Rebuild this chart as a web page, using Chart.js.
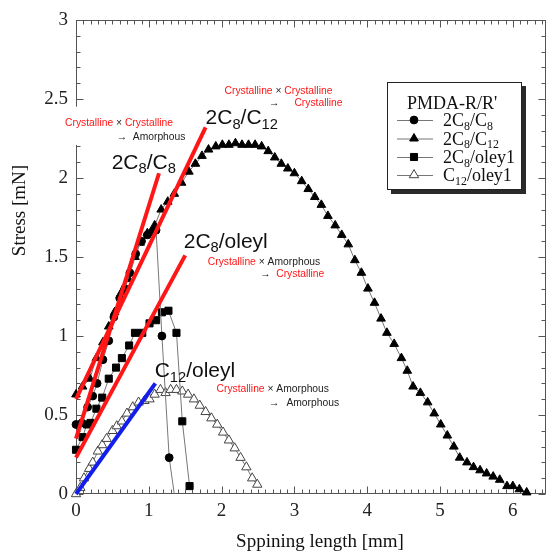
<!DOCTYPE html>
<html>
<head>
<meta charset="utf-8">
<script src="https://cdn.jsdelivr.net/npm/chart.js@4/dist/chart.umd.min.js"></script>
<style>
  html, body { margin: 0; padding: 0; background: #fff; }
  #wrap { width: 552px; height: 557px; }
</style>
</head>
<body>
<div id="wrap"><canvas id="c" width="552" height="557"></canvas></div>
<script>
// ---- Stress vs. spinning length for PMDA-R/R' fibres ----

// 2C8/C8
const xC8C8 = [0.00, 0.08, 0.16, 0.23, 0.29, 0.37, 0.45, 0.52, 0.60, 0.67, 0.74, 0.82, 0.90, 0.98, 1.05, 1.10, 1.18, 1.28, 1.35];
const yC8C8 = [0.44, 0.45, 0.55, 0.62, 0.70, 0.85, 0.97, 1.12, 1.24, 1.30, 1.40, 1.52, 1.60, 1.64, 1.66, 1.67, 1.00, 0.23, 0.00];

// 2C8/C12
const xC8C12 = [0.00, 0.09, 0.19, 0.28, 0.37, 0.45, 0.53, 0.63, 0.72, 0.81, 0.88, 0.98, 1.08, 1.17, 1.26, 1.35, 1.45, 1.55,
  1.64, 1.73, 1.82, 1.92, 2.01, 2.10, 2.19, 2.28, 2.37, 2.46, 2.55, 2.64, 2.73, 2.82, 2.91, 3.00, 3.10, 3.19, 3.28, 3.37,
  3.46, 3.56, 3.65, 3.74, 3.83, 3.92, 4.01, 4.10, 4.19, 4.27, 4.37, 4.47, 4.55, 4.63, 4.73, 4.83, 4.92, 5.01, 5.10, 5.19,
  5.27, 5.37, 5.46, 5.55, 5.64, 5.73, 5.82, 5.92, 6.00, 6.09, 6.19];
const yC8C12 = [0.63, 0.68, 0.73, 0.86, 0.96, 1.06, 1.15, 1.28, 1.36, 1.50, 1.59, 1.65, 1.70, 1.80, 1.85, 1.90, 1.97, 2.04,
  2.09, 2.14, 2.18, 2.20, 2.21, 2.21, 2.22, 2.21, 2.21, 2.21, 2.20, 2.17, 2.13, 2.09, 2.06, 2.03, 1.98, 1.93, 1.88, 1.83,
  1.76, 1.70, 1.64, 1.58, 1.48, 1.40, 1.30, 1.21, 1.11, 1.02, 0.95, 0.86, 0.78, 0.68, 0.64, 0.58, 0.51, 0.44, 0.37, 0.30,
  0.23, 0.20, 0.17, 0.15, 0.13, 0.11, 0.09, 0.05, 0.05, 0.03, 0.01];

// 2C8/oleyl
const xC8Oleyl = [0.00, 0.09, 0.15, 0.20, 0.28, 0.36, 0.45, 0.55, 0.63, 0.73, 0.81, 0.91, 1.01, 1.10, 1.18, 1.27, 1.38, 1.46, 1.56];
const yC8Oleyl = [0.28, 0.36, 0.44, 0.45, 0.54, 0.61, 0.73, 0.80, 0.86, 0.94, 1.02, 1.02, 1.08, 1.10, 1.15, 1.16, 1.02, 0.46, 0.05];

// C12/oleyl
const xC12Oleyl = [0.00, 0.06, 0.11, 0.18, 0.23, 0.30, 0.36, 0.42, 0.50, 0.56, 0.63, 0.70, 0.78, 0.86, 0.94, 1.01, 1.08, 1.16,
  1.23, 1.30, 1.38, 1.46, 1.54, 1.62, 1.70, 1.78, 1.86, 1.94, 2.02, 2.10, 2.18, 2.26, 2.34, 2.42, 2.49];
const yC12Oleyl = [0.00, 0.04, 0.10, 0.16, 0.20, 0.27, 0.31, 0.35, 0.40, 0.43, 0.46, 0.51, 0.55, 0.58, 0.59, 0.60, 0.63, 0.66,
  0.64, 0.66, 0.66, 0.65, 0.63, 0.60, 0.56, 0.52, 0.48, 0.44, 0.39, 0.34, 0.29, 0.23, 0.17, 0.10, 0.06];

// initial-slope fits
const fitC8C8X = [0, 1.14],     fitC8C8Y = [0.35, 2.03];
const fitC8C12X = [0, 1.78],    fitC8C12Y = [0.60, 2.32];
const fitC8OleylX = [0, 1.50],  fitC8OleylY = [0.23, 1.51];
const fitC12OleylX = [0, 1.09], fitC12OleylY = [0.00, 0.70];

// axis ticks
const xTickValues = [0, 1, 2, 3, 4, 5, 6];
const yTickValues = [0, 0.5, 1, 1.5, 2, 2.5, 3];

// series names (_{..} = subscript)
const seriesNames = ['2C_{8}/C_{8}', '2C_{8}/C_{12}', '2C_{8}/oley1', 'C_{12}/oley1'];
const legendTitle = "PMDA-R/R'";

const zip = (xs, ys) => xs.map((x, i) => ({ x, y: ys[i] }));

const SERIF = '"Liberation Serif", "Times New Roman", serif';
const SANS = '"Liberation Sans", Arial, sans-serif';
const RED = 'rgb(255,22,22)';
const AXIS = '#555';
const LINK = '#777';

function richParts(s) {
  const out = []; const re = /_\{([^}]*)\}/g; let last = 0, m;
  while ((m = re.exec(s))) {
    if (m.index > last) out.push([s.slice(last, m.index), false]);
    out.push([m[1], true]);
    last = re.lastIndex;
  }
  if (last < s.length) out.push([s.slice(last), false]);
  return out;
}
function drawRich(ctx, s, x, y, size, family, color, subScale, subDrop) {
  ctx.fillStyle = color; ctx.textAlign = 'left'; ctx.textBaseline = 'alphabetic';
  for (const [t, sub] of richParts(s)) {
    const fs = sub ? size * subScale : size;
    ctx.font = fs + 'px ' + family;
    ctx.fillText(t, x, sub ? y + size * subDrop : y);
    x += ctx.measureText(t).width;
  }
  return x;
}
function drawMarker(ctx, style, x, y, r, fill, stroke) {
  ctx.beginPath();
  if (style === 'circle') ctx.arc(x, y, r, 0, Math.PI * 2);
  else if (style === 'triangle') {
    const s = Math.sin(Math.PI / 3) * r;
    ctx.moveTo(x, y - r); ctx.lineTo(x + s, y + r / 2); ctx.lineTo(x - s, y + r / 2); ctx.closePath();
  } else if (style === 'rect') {
    const h = r * Math.SQRT1_2; ctx.rect(x - h, y - h, 2 * h, 2 * h);
  }
  ctx.fillStyle = fill; ctx.fill();
  ctx.lineWidth = 1; ctx.strokeStyle = stroke; ctx.stroke();
}

// series styles (also used by the legend)
const seriesStyle = [
  { pointStyle: 'circle',   r: 3.9, fill: '#000', stroke: '#000' },
  { pointStyle: 'triangle', r: 5.0, fill: '#000', stroke: '#000' },
  { pointStyle: 'rect',     r: 5.0, fill: '#000', stroke: '#000' },
  { pointStyle: 'triangle', r: 5.4, fill: '#fff', stroke: '#444' }
];
const seriesData = [zip(xC8C8, yC8C8), zip(xC8C12, yC8C12), zip(xC8Oleyl, yC8Oleyl), zip(xC12Oleyl, yC12Oleyl)];

const fitLine = (data, color) => ({
  data, showLine: true, borderColor: color, borderWidth: 4, pointRadius: 0,
  borderCapStyle: 'butt', order: 0, clip: false
});

const datasets = [
  fitLine(zip(fitC8C8X, fitC8C8Y), RED),
  fitLine(zip(fitC8C12X, fitC8C12Y), RED),
  fitLine(zip(fitC8OleylX, fitC8OleylY), RED),
  fitLine(zip(fitC12OleylX, fitC12OleylY), 'rgb(20,30,235)')
];
seriesData.forEach((data, i) => {
  const st = seriesStyle[i];
  datasets.push({
    label: seriesNames[i], data, showLine: true,
    borderColor: LINK, borderWidth: 1, order: 1 + i, clip: false,
    pointStyle: st.pointStyle,
    pointRadius: i === 0 ? (c => (c.raw && c.raw.y === 0 ? 0 : st.r)) : st.r,
    pointBackgroundColor: st.fill, pointBorderColor: st.stroke, pointBorderWidth: 1
  });
});

// curve labels, in data coordinates (left / baseline)
const curveLabels = [
  { x: 1.78, y: 2.34, text: '2C_{8}/C_{12}' },
  { x: 0.49, y: 2.06, text: '2C_{8}/C_{8}' },
  { x: 1.48, y: 1.56, text: '2C_{8}/oleyl' },
  { x: 1.08, y: 0.74, text: 'C_{12}/oleyl' }
];
// structure notes: first line "A × B", second line "→ C"
const notes = [
  { x: -0.15, y1: 2.35, y2: 2.26, a: 'Crystalline', b: 'Crystalline', ax: 0.56, cx: 0.78, c: 'Amorphous', cRed: false },
  { x: 2.04,  y1: 2.55, y2: 2.475, a: 'Crystalline', b: 'Crystalline', ax: 2.65, cx: 3.00, c: 'Crystalline', cRed: true },
  { x: 1.81,  y1: 1.47, y2: 1.39, a: 'Crystalline', b: 'Amorphous',   ax: 2.53, cx: 2.75, c: 'Crystalline', cRed: true },
  { x: 1.93,  y1: 0.665, y2: 0.576, a: 'Crystalline', b: 'Amorphous', ax: 2.65, cx: 2.89, c: 'Amorphous', cRed: false }
];

const framePlugin = {
  id: 'frame',
  beforeDatasetsDraw(chart) {
    const { ctx, chartArea: a, scales: { x, y } } = chart;
    ctx.save();
    ctx.strokeStyle = AXIS; ctx.lineWidth = 1;
    const L = Math.round(a.left) + 0.5, R = Math.round(a.right) - 0.5;
    const T = Math.round(a.top) + 0.5, B = Math.round(a.bottom) - 0.5;
    ctx.strokeRect(L, T, R - L, B - T);
    ctx.beginPath();
    for (let i = 0; i <= 64; i++) {
      const px = Math.round(x.getPixelForValue(i / 10)) + 0.5;
      const len = i % 10 === 0 ? 7 : 4;
      ctx.moveTo(px, B); ctx.lineTo(px, B - len);
      ctx.moveTo(px, T); ctx.lineTo(px, T + len);
    }
    for (let i = 0; i <= 30; i++) {
      const py = Math.round(y.getPixelForValue(i / 10)) + 0.5;
      const len = i % 5 === 0 ? 7 : 4;
      ctx.moveTo(L, py); ctx.lineTo(L + len, py);
      ctx.moveTo(R, py); ctx.lineTo(R - len, py);
    }
    ctx.stroke();
    ctx.restore();
  },
  afterDraw(chart) {
    const { ctx, scales: { x, y } } = chart;
    ctx.save();

    // axis titles
    ctx.fillStyle = '#111';
    ctx.font = '19px ' + SERIF;
    ctx.textAlign = 'center'; ctx.textBaseline = 'alphabetic';
    ctx.fillText('Sppining length [mm]', 320, 547);
    ctx.save();
    ctx.translate(25, 210.5); ctx.rotate(-Math.PI / 2);
    ctx.fillText('Stress [mN]', 0, 0);
    ctx.restore();

    // structure notes
    const fs = 10.3;
    notes.forEach(n => {
      const x0 = x.getPixelForValue(n.x), y1 = y.getPixelForValue(n.y1), y2 = y.getPixelForValue(n.y2);
      ctx.font = fs + 'px ' + SANS;
      const wA = ctx.measureText(n.a).width, wX = ctx.measureText(' × ').width, wB = ctx.measureText(n.b).width;
      const cx = x.getPixelForValue(n.cx), wC = ctx.measureText(n.c).width;
      const right = Math.max(x0 + wA + wX + wB, cx + wC);
      ctx.fillStyle = '#fff';
      ctx.fillRect(x0 - 5, y1 - 16, right - x0 + 12, y2 - y1 + 24);
      ctx.textAlign = 'left'; ctx.textBaseline = 'middle';
      ctx.fillStyle = RED; ctx.fillText(n.a, x0, y1);
      ctx.fillStyle = '#222'; ctx.fillText(' × ', x0 + wA, y1);
      ctx.fillStyle = n.b === 'Crystalline' ? RED : '#222'; ctx.fillText(n.b, x0 + wA + wX, y1);
      ctx.fillStyle = '#222'; ctx.fillText('→', x.getPixelForValue(n.ax), y2);
      ctx.fillStyle = n.cRed ? RED : '#222'; ctx.fillText(n.c, cx, y2);
    });

    // curve labels
    curveLabels.forEach(l => {
      drawRich(ctx, l.text, x.getPixelForValue(l.x), y.getPixelForValue(l.y), 21, SANS, '#111', 0.7, 0.22);
    });

    // legend
    const bx = 387, by = 82, bw = 135, bh = 108;
    ctx.fillStyle = '#2a2a2a';
    ctx.fillRect(bx + 4, by + 4, bw, bh);
    ctx.fillStyle = '#fff';
    ctx.fillRect(bx, by, bw, bh);
    ctx.strokeStyle = '#222'; ctx.lineWidth = 1;
    ctx.strokeRect(bx + 0.5, by + 0.5, bw - 1, bh - 1);
    ctx.fillStyle = '#111'; ctx.font = '18px ' + SERIF;
    ctx.textAlign = 'left'; ctx.textBaseline = 'alphabetic';
    ctx.fillText(legendTitle, 407, 109);
    const rows = [120, 138.5, 157, 175];
    seriesNames.forEach((name, i) => {
      const st = seriesStyle[i], ry = rows[i];
      ctx.strokeStyle = LINK; ctx.lineWidth = 1.2;
      ctx.beginPath(); ctx.moveTo(397, ry + 0.5); ctx.lineTo(433, ry + 0.5); ctx.stroke();
      drawMarker(ctx, st.pointStyle, 414, ry, st.r, st.fill, st.stroke);
      drawRich(ctx, name, 443, ry + 6, 18, SERIF, '#111', 0.66, 0.22);
    });

    ctx.restore();
  }
};

new Chart(document.getElementById('c'), {
  type: 'scatter',
  data: { datasets },
  options: {
    responsive: false,
    animation: false,
    events: [],
    layout: { padding: { top: 20, right: 4, left: 0, bottom: 0 } },
    plugins: { legend: { display: false }, tooltip: { enabled: false } },
    elements: { line: { tension: 0 } },
    scales: {
      x: {
        type: 'linear', min: 0, max: 6.45,
        afterBuildTicks: s => { s.ticks = xTickValues.map(v => ({ value: v })); },
        afterFit: s => { s.height = 63; },
        grid: { display: false, drawTicks: false },
        border: { display: false },
        ticks: { padding: 6, color: '#222', font: { family: SERIF, size: 19 }, callback: v => String(v) }
      },
      y: {
        type: 'linear', min: 0, max: 3,
        afterBuildTicks: s => { s.ticks = yTickValues.map(v => ({ value: v })); },
        afterFit: s => { s.width = 76; },
        grid: { display: false, drawTicks: false },
        border: { display: false },
        ticks: { padding: 8, color: '#222', font: { family: SERIF, size: 19 }, callback: v => String(v) }
      }
    }
  },
  plugins: [framePlugin]
});
</script>
</body>
</html>
